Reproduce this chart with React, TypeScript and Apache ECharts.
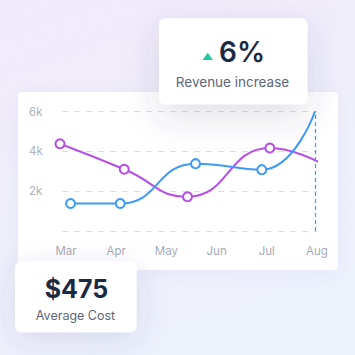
import React, { useEffect, useRef } from "react";
import * as echarts from "echarts";

const months = ["Mar", "Apr", "May", "Jun", "Jul", "Aug"];
const monthPositions = [0, 1, 2, 3, 4, 5];
const yTicks = [0, 2000, 4000, 6000];

const blueX = [0.09, 1.08, 2.58, 3.9, 4.96];
const blueY = [1380, 1380, 3380, 3080, 6000];
const purpleX = [-0.12, 1.16, 2.42, 4.06, 5.05];
const purpleY = [4380, 3100, 1720, 4170, 3440];

const markerIndexLastHidden = (xs: number[], ys: number[]) =>
  xs.map((x, i) =>
    i === xs.length - 1 ? { value: [x, ys[i]], symbol: "none" } : { value: [x, ys[i]] }
  );

const BLUE = "#3d9af8";
const PURPLE = "#b64fe8";
const FONT = "Inter, 'Noto Sans', sans-serif";

export default function App() {
  const ref = useRef<HTMLDivElement>(null);

  useEffect(() => {
    if (!ref.current) return;
    const chart = echarts.init(ref.current, undefined, { renderer: "svg" });
    chart.setOption({
      animation: false,
      grid: { left: 62, right: 38, top: 111.5, bottom: 124, containLabel: false, outerBoundsMode: "none" },
      xAxis: {
        type: "value",
        min: -0.08,
        max: 5,
        axisLine: { show: false },
        axisTick: { show: false },
        splitLine: { show: false },
        axisLabel: {
          customValues: monthPositions,
          formatter: (v: number) => months[Math.round(v)] ?? "",
          margin: 14,
          color: "#a7abb5",
          fontSize: 11.5,
          fontFamily: FONT,
        },
      },
      yAxis: {
        type: "value",
        min: yTicks[0],
        max: yTicks[yTicks.length - 1],
        interval: 2000,
        axisLine: { show: false },
        axisTick: { show: false },
        axisLabel: {
          formatter: (v: number) => (v === 0 ? "" : v / 1000 + "k"),
          align: "left",
          margin: 33,
          color: "#aeb2bb",
          fontSize: 11.5,
          fontFamily: FONT,
        },
        splitLine: { show: true, lineStyle: { color: "#dcdde2", type: [6, 6], width: 1 } },
      },
      series: [
        {
          type: "line",
          smooth: 0.5,
          clip: false,
          data: markerIndexLastHidden(purpleX, purpleY),
          symbol: "circle",
          symbolSize: 9,
          lineStyle: { color: PURPLE, width: 2 },
          itemStyle: { color: "#ffffff", borderColor: PURPLE, borderWidth: 2 },
          z: 3,
        },
        {
          type: "line",
          smooth: 0.5,
          clip: false,
          data: markerIndexLastHidden(blueX, blueY),
          symbol: "circle",
          symbolSize: 9,
          lineStyle: { color: BLUE, width: 2 },
          itemStyle: { color: "#ffffff", borderColor: BLUE, borderWidth: 2 },
          z: 4,
          markLine: {
            silent: true,
            symbol: ["none", "none"],
            label: { show: false },
            itemStyle: { color: BLUE },
            emphasis: { disabled: true },
            lineStyle: { color: BLUE, type: [4, 3], width: 1.2, opacity: 1 },
            data: [{ xAxis: blueX[blueX.length - 1], lineStyle: { color: BLUE } }],
          },
        },
      ],
      graphic: [
        {
          type: "rect",
          z: 100,
          shape: { x: 159, y: 18.3, width: 148.5, height: 86, r: 6 },
          style: { fill: "#ffffff", shadowBlur: 34, shadowOffsetY: 12, shadowColor: "rgba(60,55,120,0.16)" },
        },
        {
          type: "polygon",
          z: 101,
          shape: { points: [[202.5, 60], [213, 60], [207.8, 52.7]] },
          style: { fill: "#1fcaa0" },
        },
        {
          type: "text",
          z: 101,
          x: 219,
          y: 51.7,
          style: {
            text: "6%",
            font: `600 28px ${FONT}`,
            fill: "#1b2a44",
            align: "left",
            textAlign: "left",
            verticalAlign: "middle",
            textVerticalAlign: "middle",
          },
        },
        {
          type: "text",
          z: 101,
          x: 232.5,
          y: 82.3,
          style: {
            text: "Revenue increase",
            font: `400 13.5px ${FONT}`,
            fill: "#5d6679",
            align: "center",
            textAlign: "center",
            verticalAlign: "middle",
            textVerticalAlign: "middle",
          },
        },
        {
          type: "rect",
          z: 100,
          shape: { x: 15, y: 261.7, width: 121.7, height: 70.6, r: 6 },
          style: { fill: "#ffffff", shadowBlur: 30, shadowOffsetY: 8, shadowColor: "rgba(70,60,140,0.14)" },
        },
        {
          type: "text",
          z: 101,
          x: 76.5,
          y: 289.3,
          style: {
            text: "$475",
            font: `700 25px ${FONT}`,
            fill: "#1b2a44",
            align: "center",
            textAlign: "center",
            verticalAlign: "middle",
            textVerticalAlign: "middle",
          },
        },
        {
          type: "text",
          z: 101,
          x: 75.5,
          y: 315.6,
          style: {
            text: "Average Cost",
            font: `400 12.5px ${FONT}`,
            fill: "#5d6679",
            align: "center",
            textAlign: "center",
            verticalAlign: "middle",
            textVerticalAlign: "middle",
          },
        },
      ],
    });
    return () => chart.dispose();
  }, []);

  return (
    <div
      style={{
        position: "absolute",
        left: 0,
        top: 0,
        width: 355,
        height: 355,
        overflow: "hidden",
        background: "linear-gradient(160deg, #f1eafa 0%, #eff0fb 55%, #edf2fd 100%)",
      }}
    >
      <div
        style={{
          position: "absolute",
          left: 17.5,
          top: 92,
          width: 320.8,
          height: 178,
          background: "#ffffff",
          borderRadius: 4,
          boxShadow: "0 4px 18px rgba(90,80,160,0.06)",
        }}
      />
      <div ref={ref} style={{ position: "absolute", left: 0, top: 0, width: 355, height: 355 }} />
    </div>
  );
}
